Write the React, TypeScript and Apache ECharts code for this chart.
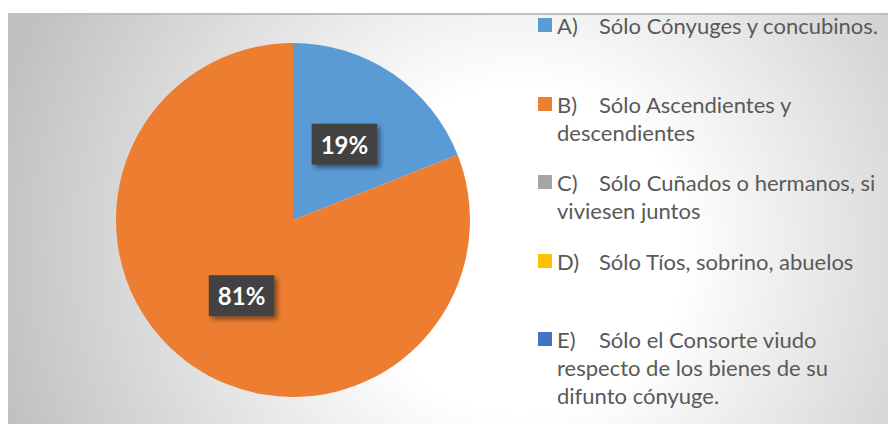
import React, { useEffect, useRef } from "react";
import * as echarts from "echarts";

// ---- data ----
const letters = ["A)", "B)", "C)", "D)", "E)"];
const labelLines: string[][] = [
  ["Sólo Cónyuges y concubinos."],
  ["Sólo Ascendientes y", "descendientes"],
  ["Sólo Cuñados o hermanos, si", "viviesen juntos"],
  ["Sólo Tíos, sobrino, abuelos"],
  ["Sólo el Consorte viudo", "respecto de los bienes de su", "difunto cónyuge."],
];
const values = [19, 81, 0, 0, 0];
const palette = ["#5B9BD5", "#ED7D31", "#A5A5A5", "#FFC000", "#4472C4"];

const names = letters.map((l, i) => l + " " + labelLines[i].join(" "));

// ---- layout ----
const LINE = 28;
const legendIconCenters = [25, 104, 182, 261, 339];
const FONT = "Lato, 'Open Sans', sans-serif";
const TEXT_COLOR = "#595959";

export default function App() {
  const ref = useRef<HTMLDivElement>(null);
  useEffect(() => {
    if (!ref.current) return;
    const chart = echarts.init(ref.current, undefined, { renderer: "svg" });
    const txt = { fontFamily: FONT, fontSize: 22, color: TEXT_COLOR, lineHeight: LINE };
    const legends = names.map((n, i) => {
      const k = labelLines[i].length - 1;
      const H = (2 * k + 1) * LINE;
      return {
        data: [n],
        orient: "vertical",
        left: 538,
        top: legendIconCenters[i] - H / 2,
        padding: 0,
        itemWidth: 14,
        itemHeight: 14,
        icon: "rect",
        selectedMode: false,
        formatter: () => {
          const lines = labelLines[i];
          const pad = Array(k).fill("{t| }");
          return [
            ...pad,
            `{k|${letters[i]}}{t|${lines[0]}}`,
            ...lines.slice(1).map((l) => `{t|${l}}`),
          ].join("\n");
        },
        textStyle: {
          ...txt,
          rich: {
            k: { ...txt, width: 42 },
            t: { ...txt },
          },
        },
      };
    });
    chart.setOption({
      animation: false,
      color: palette,
      graphic: [
        {
          type: "rect",
          z: -10,
          shape: { x: 8, y: 13, width: 880, height: 411 },
          style: {
            fill: {
              type: "radial",
              x: 520,
              y: 250,
              r: 540,
              global: true,
              colorStops: [
                { offset: 0, color: "#ffffff" },
                { offset: 0.3, color: "#ffffff" },
                { offset: 1, color: "#c0c0c0" },
              ],
            },
          },
        },
        {
          type: "line",
          z: -9,
          shape: { x1: 8, y1: 14, x2: 888, y2: 14 },
          style: { stroke: "#bfbfbf", lineWidth: 2 },
        },
      ],
      legend: legends,
      series: [
        {
          type: "pie",
          center: [293, 220],
          radius: 177,
          startAngle: 90,
          clockwise: true,
          itemStyle: { borderWidth: 0 },
          labelLine: { show: false },
          emphasis: { disabled: true },
          label: {
            position: "inside",
            formatter: (p: any) => Math.round(p.percent) + "%",
            fontFamily: FONT,
            fontSize: 24,
            fontWeight: "bold",
            color: "#ffffff",
            lineHeight: 24,
            backgroundColor: "#424242",
            padding: [9, 9, 8, 9],
            shadowColor: "rgba(0,0,0,0.45)",
            shadowBlur: 5,
            shadowOffsetX: 3,
            shadowOffsetY: 3,
          },
          data: names.map((n, i) => ({
            name: n,
            value: values[i],
            label: { show: values[i] > 0 },
          })),
        },
      ],
    });
    return () => chart.dispose();
  }, []);
  return (
    <div
      ref={ref}
      style={{ position: "absolute", left: 0, top: 0, width: 888, height: 424 }}
    />
  );
}
